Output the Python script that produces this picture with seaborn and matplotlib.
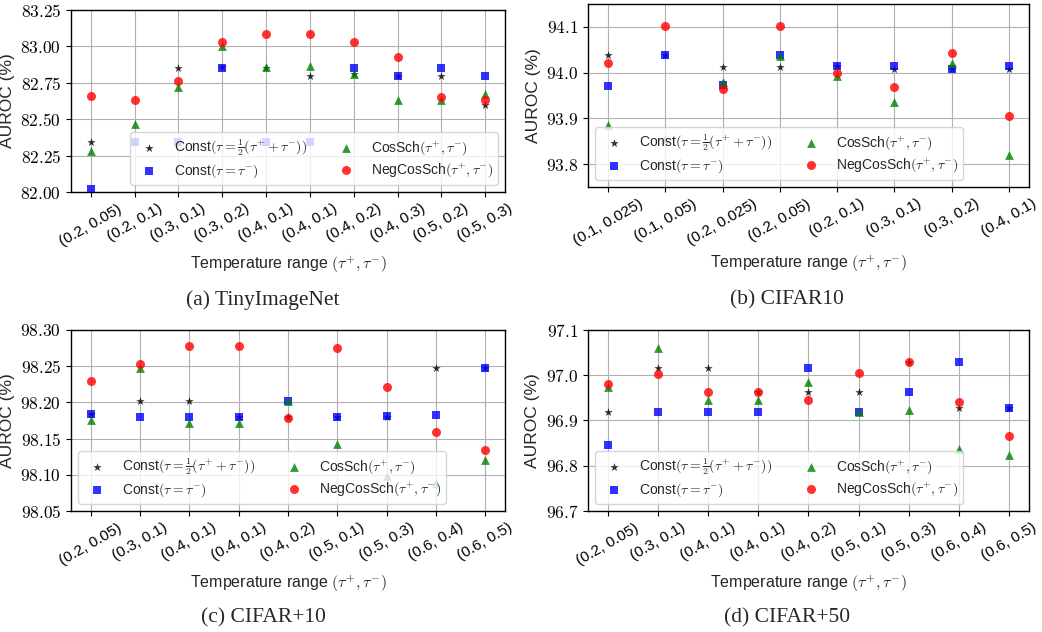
import matplotlib
matplotlib.use('Agg')
import numpy as np
import matplotlib.pyplot as plt
import seaborn as sns
from matplotlib.ticker import FixedLocator, FuncFormatter

# ---- values ----
tiny_labels = ['(0.2, 0.05)', '(0.2, 0.1)', '(0.3, 0.1)', '(0.3, 0.2)', '(0.4, 0.1)',
               '(0.4, 0.1)', '(0.4, 0.2)', '(0.4, 0.3)', '(0.5, 0.2)', '(0.5, 0.3)']
tiny_const_half = [82.34, 82.34, 82.85, 82.86, 82.85, 82.80, 82.81, 82.80, 82.80, 82.60]
tiny_const_neg = [82.02, 82.34, 82.34, 82.85, 82.34, 82.34, 82.85, 82.80, 82.85, 82.80]
tiny_cossch = [82.28, 82.47, 82.72, 83.00, 82.86, 82.865, 82.81, 82.635, 82.635, 82.67]
tiny_negcossch = [82.656, 82.63, 82.764, 83.028, 83.083, 83.083, 83.028, 82.924, 82.654, 82.63]

c10_labels = ['(0.1, 0.025)', '(0.1, 0.05)', '(0.2, 0.025)', '(0.2, 0.05)',
              '(0.2, 0.1)', '(0.3, 0.1)', '(0.3, 0.2)', '(0.4, 0.1)']
c10_const_half = [94.039, 94.039, 94.013, 94.013, 94.014, 94.008, 94.008, 94.007]
c10_const_neg = [93.971, 94.039, 93.973, 94.039, 94.014, 94.014, 94.008, 94.014]
c10_cossch = [93.885, 93.854, 93.980, 94.036, 93.993, 93.936, 94.021, 93.819]
c10_negcossch = [94.021, 94.101, 93.965, 94.102, 93.999, 93.969, 94.042, 93.905]

cp10_labels = ['(0.2, 0.05)', '(0.3, 0.1)', '(0.4, 0.1)', '(0.4, 0.1)', '(0.4, 0.2)',
               '(0.5, 0.1)', '(0.5, 0.3)', '(0.6, 0.4)', '(0.6, 0.5)']
cp10_const_half = [98.184, 98.202, 98.202, 98.180, 98.180, 98.180, 98.180, 98.248, 98.248]
cp10_const_neg = [98.184, 98.180, 98.180, 98.180, 98.202, 98.180, 98.181, 98.183, 98.248]
cp10_cossch = [98.175, 98.248, 98.172, 98.172, 98.202, 98.143, 98.098, 98.088, 98.121]
cp10_negcossch = [98.230, 98.253, 98.278, 98.278, 98.178, 98.275, 98.221, 98.159, 98.134]

cp50_labels = cp10_labels
cp50_const_half = [96.919, 97.015, 97.015, 96.964, 96.964, 96.964, 97.029, 96.927, 96.927]
cp50_const_neg = [96.846, 96.919, 96.919, 96.919, 97.015, 96.919, 96.963, 97.029, 96.928]
cp50_cossch = [96.974, 97.060, 96.946, 96.946, 96.985, 96.918, 96.924, 96.838, 96.823]
cp50_negcossch = [96.980, 97.002, 96.964, 96.964, 96.945, 97.004, 97.029, 96.940, 96.865]

sns.set_style('ticks', {'axes.grid': True, 'grid.color': '#b0b0b0', 'axes.edgecolor': 'black',
                        'xtick.color': 'black', 'ytick.color': 'black'})
plt.rcParams['font.family'] = ['Liberation Sans', 'DejaVu Sans']
plt.rcParams['mathtext.fontset'] = 'cm'

LEGEND_LABELS = [r'Const$(\tau=\frac{1}{2}(\tau^{+}+\tau^{-}))$',
                 r'Const$(\tau=\tau^{-})$',
                 r'CosSch$(\tau^{+},\tau^{-})$',
                 r'NegCosSch$(\tau^{+},\tau^{-})$']
STYLES = [('*', 'black', 40), ('s', 'blue', 38), ('^', 'green', 40), ('o', 'red', 42)]


def draw_panel(ax, labels, series, ylim, yticks, ydec, legend_loc):
    x = np.arange(len(labels))
    for vals, lab, (mk, col, size) in zip(series, LEGEND_LABELS, STYLES):
        sns.scatterplot(x=x, y=vals, marker=mk, color=col, alpha=0.8, s=size,
                        linewidth=0, label=lab, ax=ax)
    ax.set_ylim(*ylim)
    ax.yaxis.set_major_locator(FixedLocator(yticks))
    ax.yaxis.set_major_formatter(FuncFormatter(lambda v, _: f'${v:.{ydec}f}$'))
    ax.set_xticks(x)
    ax.set_xticklabels(labels, rotation=30, fontsize=11)
    ax.tick_params(axis='y', labelsize=12.5)
    ax.set_xlabel(r'Temperature range $(\tau^{+}, \tau^{-})$', fontsize=11.5)
    ax.set_ylabel('AUROC (%)', fontsize=12.5)
    ax.grid(True, color='#b0b0b0', linewidth=0.8)
    for sp in ax.spines.values():
        sp.set_color('black')
        sp.set_linewidth(1.0)
    ax.legend(ncol=2, loc=legend_loc, fontsize=10, labelspacing=0.3,
              columnspacing=1.8, borderpad=0.35)


fig = plt.figure(figsize=(10.42, 6.32), dpi=100)
ax_a = fig.add_axes([0.0681, 0.6962, 0.4165, 0.288])
ax_b = fig.add_axes([0.5643, 0.7041, 0.4232, 0.2896])
ax_c = fig.add_axes([0.0681, 0.1915, 0.4165, 0.2864])
ax_d = fig.add_axes([0.5643, 0.1915, 0.4232, 0.2864])

draw_panel(ax_a, tiny_labels, [tiny_const_half, tiny_const_neg, tiny_cossch, tiny_negcossch],
           (82.0, 83.25), [82.0, 82.25, 82.5, 82.75, 83.0, 83.25], 2, 'lower right')
draw_panel(ax_b, c10_labels, [c10_const_half, c10_const_neg, c10_cossch, c10_negcossch],
           (93.75, 94.15), [93.8, 93.9, 94.0, 94.1], 1, 'lower left')
draw_panel(ax_c, cp10_labels, [cp10_const_half, cp10_const_neg, cp10_cossch, cp10_negcossch],
           (98.05, 98.30), [98.05, 98.10, 98.15, 98.20, 98.25, 98.30], 2, 'lower left')
draw_panel(ax_d, cp50_labels, [cp50_const_half, cp50_const_neg, cp50_cossch, cp50_negcossch],
           (96.7, 97.1), [96.7, 96.8, 96.9, 97.0, 97.1], 1, 'lower left')

captions = [('(a) TinyImageNet', 263, 300), ('(b) CIFAR10', 787, 300),
            ('(c) CIFAR+10', 263, 618), ('(d) CIFAR+50', 787, 618)]
for txt, px, py in captions:
    fig.text(px / 1042, 1 - py / 632, txt, ha='center', va='center',
             family='Liberation Serif', fontsize=15.5)

fig.savefig('out.png', dpi=100)
plt.close(fig)
